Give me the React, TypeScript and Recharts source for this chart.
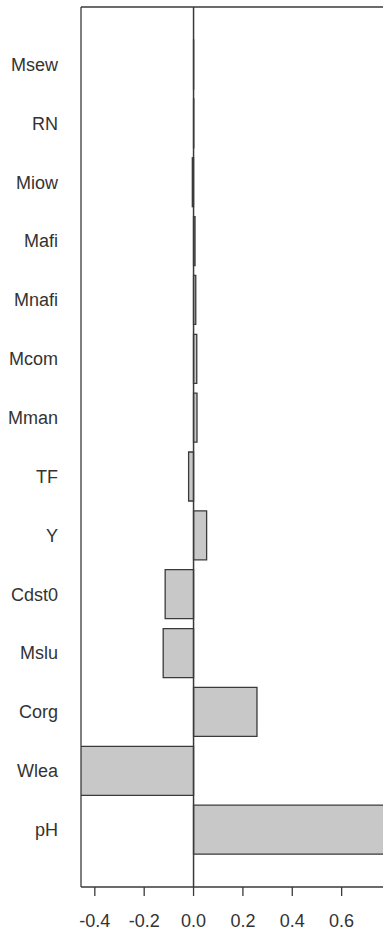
import React from 'react';
import { BarChart, Bar, XAxis, YAxis, ReferenceLine } from 'recharts';

const categories = ['Msew', 'RN', 'Miow', 'Mafi', 'Mnafi', 'Mcom', 'Mman', 'TF', 'Y', 'Cdst0', 'Mslu', 'Corg', 'Wlea', 'pH'];
const values = [0.0005, 0.001, -0.005, 0.006, 0.009, 0.013, 0.014, -0.02, 0.053, -0.115, -0.123, 0.257, -0.46, 0.79];
const xTicks = [-0.4, -0.2, 0.0, 0.2, 0.4, 0.6];
const xDomain: [number, number] = [-0.456, 0.8];

const data = categories.map((name, i) => ({ name, value: values[i] }));

const fontFamily = '"Liberation Sans", Arial, sans-serif';
const textColor = '#333333';
const lineColor = '#3a3a3a';

export default function App() {
  return (
    <div style={{ position: 'absolute', left: 0, top: 0, width: 383, height: 931, overflow: 'hidden', background: '#fff' }}>
      <BarChart
        width={400}
        height={931}
        data={data}
        layout="vertical"
        margin={{ top: 6, right: 9, left: 0, bottom: 0 }}
      >
        <XAxis
          type="number"
          dataKey="value"
          domain={xDomain}
          ticks={xTicks}
          allowDataOverflow
          height={44}
          axisLine={{ stroke: lineColor, strokeWidth: 1.3 }}
          tickLine={{ stroke: lineColor, strokeWidth: 1.3 }}
          tickSize={9}
          tickMargin={18}
          tickFormatter={(v: number) => v.toFixed(1)}
          tick={{ fill: textColor, fontSize: 18, fontFamily }}
        />
        <XAxis
          xAxisId="top"
          orientation="top"
          type="number"
          domain={xDomain}
          allowDataOverflow
          height={1}
          axisLine={{ stroke: lineColor, strokeWidth: 1.3 }}
          tickLine={false}
          tick={false}
        />
        <YAxis
          type="category"
          dataKey="name"
          width={81}
          axisLine={{ stroke: lineColor, strokeWidth: 1.3 }}
          tickLine={false}
          tickSize={0}
          tickMargin={23}
          interval={0}
          padding={{ top: 28, bottom: 28 }}
          tick={{ fill: textColor, fontSize: 18, fontFamily }}
        />
        <Bar
          dataKey="value"
          barSize={49}
          fill="#c8c8c8"
          stroke={lineColor}
          strokeWidth={1.3}
          isAnimationActive={false}
        />
        <ReferenceLine x={0} stroke={lineColor} strokeWidth={1.5} />
      </BarChart>
    </div>
  );
}
